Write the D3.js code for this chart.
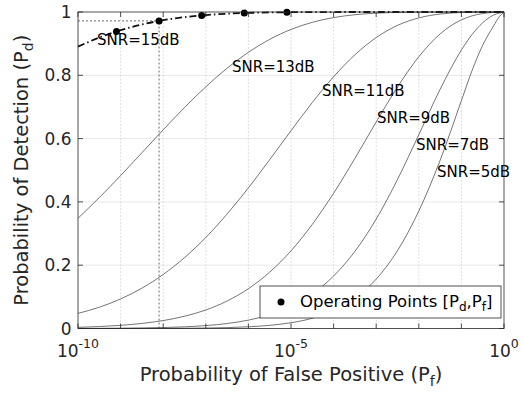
<!DOCTYPE html>
<html><head><meta charset="utf-8">
<script src="https://cdn.jsdelivr.net/npm/d3@7"></script>
<style>body{margin:0;background:#fff;} svg{display:block;font-family:"DejaVu Sans",sans-serif;}</style>
</head><body><svg id="c" width="523" height="395"></svg>
<script>
// ---- data ----
const pfExponents = [-10,-9.5,-9,-8.5,-8,-7.5,-7,-6.5,-6,-5.5,-5,-4.5,-4,-3.5,-3,-2.5,-2,-1.5,-1,-0.75,-0.5,-0.25,-0.1,0];
const snrNames = ["SNR=5dB","SNR=7dB","SNR=9dB","SNR=11dB","SNR=13dB","SNR=15dB"];
const pdSnr5  = [0.0000,0.0000,0.0001,0.0002,0.0004,0.0008,0.0015,0.0028,0.0054,0.0100,0.0182,0.0324,0.0564,0.0953,0.1560,0.2461,0.3711,0.5311,0.7200,0.8150,0.8950,0.9550,0.9870,1];
const pdSnr7  = [0.0003,0.0005,0.0009,0.0017,0.0030,0.0053,0.0092,0.0157,0.0265,0.0434,0.0697,0.1090,0.1658,0.2436,0.3457,0.4709,0.6122,0.7556,0.8798,0.9290,0.9660,0.9900,0.9970,1];
const pdSnr9  = [0.0037,0.0061,0.0100,0.0160,0.0251,0.0387,0.0585,0.0869,0.1258,0.1780,0.2452,0.3291,0.4274,0.5374,0.6525,0.7630,0.8586,0.9307,0.9752,0.9878,0.9952,0.9988,0.9997,1];
const pdSnr11 = [0.0478,0.0672,0.0934,0.1275,0.1706,0.2239,0.2876,0.3619,0.4443,0.5335,0.6248,0.7140,0.7953,0.8648,0.9192,0.9577,0.9813,0.9936,0.9985,0.9994,0.9998,1,1,1];
const pdSnr13 = [0.3483,0.4137,0.4832,0.5553,0.6278,0.6981,0.7636,0.8225,0.8726,0.9136,0.9449,0.9674,0.9823,0.9914,0.9963,0.9987,0.9996,0.9999,1,1,1,1,1,1];
const pdSnr15 = [0.8905,0.9194,0.9426,0.9606,0.9741,0.9837,0.9903,0.9945,0.9971,0.9986,0.9993,0.9997,0.9999,1,1,1,1,1,1,1,1,1,1,1];
const labelPfExp = [-1.573,-2.066,-2.981,-4.272,-6.385,-9.554];
const labelPd    = [0.494,0.580,0.665,0.750,0.826,0.9115];
const operatingPf = [8e-10,8e-9,8e-8,8e-7,8e-6];
const operatingPd = [0.9386,0.9719,0.9892,0.9967,0.9992];
const markedIndex = 1;
const yTicks = [0,0.2,0.4,0.6,0.8,1];
const yTickLabels = ["0","0.2","0.4","0.6","0.8","1"];
const xTickExps = [-10,-9,-8,-7,-6,-5,-4,-3,-2,-1,0];
const xLabelExps = [-10,-5,0];
const legendText = "Operating Points";

// ---- layout ----
const L=78,R=504,T=12,B=328.5;
const svg=d3.select("#c");
const x=d3.scaleLog().domain([1e-10,1]).range([L,R]);
const y=d3.scaleLinear().domain([0,1]).range([B,T]);
const ink="#262626";

// grid
svg.append("g").selectAll("line").data(yTicks.slice(1,-1)).join("line")
 .attr("x1",L).attr("x2",R).attr("y1",d=>y(d)).attr("y2",d=>y(d))
 .attr("stroke","#e3e3e3").attr("stroke-width",0.8);
svg.append("g").selectAll("line").data(xTickExps.slice(1,-1)).join("line")
 .attr("x1",d=>x(Math.pow(10,d))).attr("x2",d=>x(Math.pow(10,d))).attr("y1",T).attr("y2",B)
 .attr("stroke","#d6d6d6").attr("stroke-width",0.8).attr("stroke-dasharray","2,1.5");

// curves
const series=[pdSnr5,pdSnr7,pdSnr9,pdSnr11,pdSnr13,pdSnr15];
const line=d3.line().x(d=>x(Math.pow(10,d[0]))).y(d=>y(d[1])).curve(d3.curveMonotoneX);
series.forEach((s,i)=>{
  const pts=pfExponents.map((e,j)=>[e,s[j]]);
  const p=svg.append("path").attr("d",line(pts)).attr("fill","none");
  if(i===5){p.attr("stroke","#111").attr("stroke-width",1.8).attr("stroke-dasharray","7,3,1.5,3");}
  else{p.attr("stroke","#3a3a3a").attr("stroke-width",0.7);}
});

// dotted guide lines
const mx=x(operatingPf[markedIndex]), my=y(operatingPd[markedIndex]);
svg.append("line").attr("x1",L).attr("x2",mx).attr("y1",my).attr("y2",my)
 .attr("stroke","#444").attr("stroke-width",0.8).attr("stroke-dasharray","2,2");
svg.append("line").attr("x1",mx).attr("x2",mx).attr("y1",y(0)).attr("y2",my)
 .attr("stroke","#444").attr("stroke-width",0.8).attr("stroke-dasharray","2,2");

// operating points
svg.append("g").selectAll("circle").data(operatingPf).join("circle")
 .attr("cx",d=>x(d)).attr("cy",(d,i)=>y(operatingPd[i])).attr("r",3.5).attr("fill","#000");

// SNR labels
svg.append("g").selectAll("text").data(snrNames).join("text")
 .attr("x",(d,i)=>x(Math.pow(10,labelPfExp[i]))).attr("y",(d,i)=>y(labelPd[i]))
 .attr("dominant-baseline","central").attr("font-size",15).attr("fill","#000").text(d=>d);

// axes box
svg.append("rect").attr("x",L).attr("y",T).attr("width",R-L).attr("height",B-T)
 .attr("fill","none").attr("stroke",ink).attr("stroke-width",0.8);
// ticks
const tk=5;
yTicks.forEach(v=>{
  svg.append("line").attr("x1",L).attr("x2",L+tk).attr("y1",y(v)).attr("y2",y(v)).attr("stroke",ink).attr("stroke-width",0.8);
  svg.append("line").attr("x1",R).attr("x2",R-tk).attr("y1",y(v)).attr("y2",y(v)).attr("stroke",ink).attr("stroke-width",0.8);
});
xTickExps.forEach(e=>{
  const xx=x(Math.pow(10,e));
  svg.append("line").attr("x1",xx).attr("x2",xx).attr("y1",B).attr("y2",B-tk).attr("stroke",ink).attr("stroke-width",0.8);
  svg.append("line").attr("x1",xx).attr("x2",xx).attr("y1",T).attr("y2",T+tk).attr("stroke",ink).attr("stroke-width",0.8);
});
// y tick labels
svg.append("g").selectAll("text").data(yTicks).join("text")
 .attr("x",L-6.5).attr("y",d=>y(d)).attr("text-anchor","end").attr("dominant-baseline","central")
 .attr("font-size",17).attr("fill",ink).text((d,i)=>yTickLabels[i]);
// x tick labels
xLabelExps.forEach(e=>{
  const t=svg.append("text").attr("x",x(Math.pow(10,e))).attr("y",357).attr("text-anchor","middle")
   .attr("font-size",17).attr("fill",ink);
  t.append("tspan").text("10");
  t.append("tspan").attr("dy",-9).attr("font-size",12.5).text(String(e));
});
// axis labels
const xl=svg.append("text").attr("x",(L+R)/2).attr("y",381).attr("text-anchor","middle").attr("font-size",19.5).attr("fill",ink);
xl.append("tspan").text("Probability of False Positive (P");
xl.append("tspan").attr("dy",5).attr("font-size",14).text("f");
xl.append("tspan").attr("dy",-5).text(")");
const yl=svg.append("text").attr("transform",`translate(28,${(T+B)/2}) rotate(-90)`).attr("text-anchor","middle").attr("font-size",19.5).attr("fill",ink);
yl.append("tspan").text("Probability of Detection (P");
yl.append("tspan").attr("dy",5).attr("font-size",14).text("d");
yl.append("tspan").attr("dy",-5).text(")");

// legend
svg.append("rect").attr("x",260).attr("y",286).attr("width",241).attr("height",32)
 .attr("fill","#fff").attr("stroke",ink).attr("stroke-width",0.8);
svg.append("circle").attr("cx",281).attr("cy",302).attr("r",3.5).attr("fill","#000");
const lt=svg.append("text").attr("x",300).attr("y",307).attr("font-size",16.5).attr("fill","#000");
lt.append("tspan").text(legendText+" [P");
lt.append("tspan").attr("dy",4).attr("font-size",12).text("d");
lt.append("tspan").attr("dy",-4).text(",P");
lt.append("tspan").attr("dy",4).attr("font-size",12).text("f");
lt.append("tspan").attr("dy",-4).text("]");
</script></body></html>
